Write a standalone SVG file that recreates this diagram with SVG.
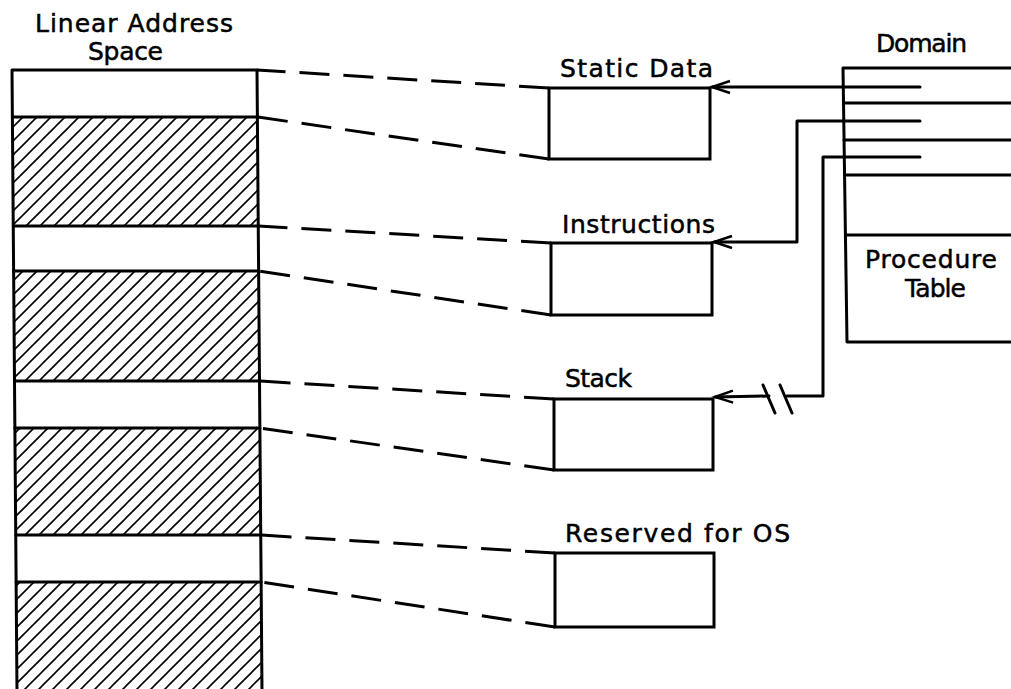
<svg xmlns="http://www.w3.org/2000/svg" width="1011" height="689" viewBox="0 0 1011 689">
<style>
.ln{fill:none;stroke:#000;stroke-width:3;stroke-linecap:round;stroke-linejoin:round}
.ds{fill:none;stroke:#000;stroke-width:3;stroke-dasharray:30 14}
.bx{fill:#fff;stroke:#000;stroke-width:3}
.t{font-family:"DejaVu Sans",sans-serif;font-size:25px;fill:#000;stroke:#000;stroke-width:0.5}
</style>
<defs>
<pattern id="hatch" patternUnits="userSpaceOnUse" width="14" height="14">
<path d="M0,14 L14,0 M-4,4 L4,-4 M10,18 L18,10" stroke="#000" stroke-width="1.6"/>
</pattern>
<marker id="arr" markerUnits="userSpaceOnUse" markerWidth="24" markerHeight="16" refX="20" refY="8" orient="auto" viewBox="0 0 24 16">
<path d="M2,2 L20,8 L2,14" fill="none" stroke="#000" stroke-width="2.5"/>
</marker>
</defs>
<rect width="1011" height="689" fill="#fff"/>

<g id="linear-address-space">
<text class="t" x="35" y="32" textLength="198" lengthAdjust="spacing">Linear Address</text>
<text class="t" x="88" y="60" textLength="75" lengthAdjust="spacing">Space</text>
<polygon points="12.4,117 257.4,117 258.3,226 13.3,226" fill="url(#hatch)"/>
<polygon points="13.6,271 258.6,271 259.5,381 14.5,381" fill="url(#hatch)"/>
<polygon points="14.9,428 259.9,428 260.8,535 15.8,535" fill="url(#hatch)"/>
<polygon points="16.1,582 261.1,582 262,689 17,689" fill="url(#hatch)"/>
<path class="ln" d="M17,692 L12,70 L257,70 L262,692"/>
<path class="ln" d="M12.4,117 L257.4,117 M13.3,226 L258.3,226 M13.6,271 L258.6,271 M14.5,381 L259.5,381 M14.9,428 L259.9,428 M15.8,535 L260.8,535 M16.1,582 L261.1,582"/>
</g>

<g id="static-data">
<text class="t" x="560" y="77" textLength="153" lengthAdjust="spacing">Static Data</text>
<rect class="bx" x="549" y="88" width="161" height="71"/>
</g>
<g id="instructions">
<text class="t" x="562" y="233" textLength="153" lengthAdjust="spacing">Instructions</text>
<rect class="bx" x="551" y="243" width="161" height="72"/>
</g>
<g id="stack">
<text class="t" x="565" y="387" textLength="67" lengthAdjust="spacing">Stack</text>
<rect class="bx" x="554" y="399" width="159" height="71"/>
</g>
<g id="reserved-os">
<text class="t" x="565" y="542" textLength="225" lengthAdjust="spacing">Reserved for OS</text>
<rect class="bx" x="555" y="553" width="159" height="74"/>
</g>

<g id="domain">
<text class="t" x="876" y="52" textLength="91" lengthAdjust="spacing">Domain</text>
<path class="ln" d="M1014,68 L843,68 L847,342 L1014,342"/>
<path class="ln" d="M844,103 L1014,103 M844,140 L1014,140 M845,175 L1014,175 M846,235 L1014,235"/>
<text class="t" x="865" y="268" textLength="132" lengthAdjust="spacing">Procedure</text>
<text class="t" x="905" y="297" textLength="61" lengthAdjust="spacing">Table</text>
</g>

<g id="connectors">
<path class="ds" d="M549,88 L257,70"/>
<path class="ds" d="M549,159 L257.4,117"/>
<path class="ds" d="M551,243 L258.3,226"/>
<path class="ds" d="M551,315 L258.6,271"/>
<path class="ds" d="M554,399 L259.5,381"/>
<path class="ds" d="M554,470 L259.9,428"/>
<path class="ds" d="M555,553 L260.8,535"/>
<path class="ds" d="M555,627 L261.1,582"/>
<path class="ln" d="M920,87 L712,87" marker-end="url(#arr)"/>
<path class="ln" d="M920,121 L797,121 L797,242 L714,242" marker-end="url(#arr)"/>
<path class="ln" d="M920,157 L823,157 L823,396 L787,396"/>
<path class="ln" d="M769,396 L715,397" marker-end="url(#arr)"/>
<path class="ln" d="M763,385 L775,413 M780,385 L792,413"/>
</g>
</svg>
